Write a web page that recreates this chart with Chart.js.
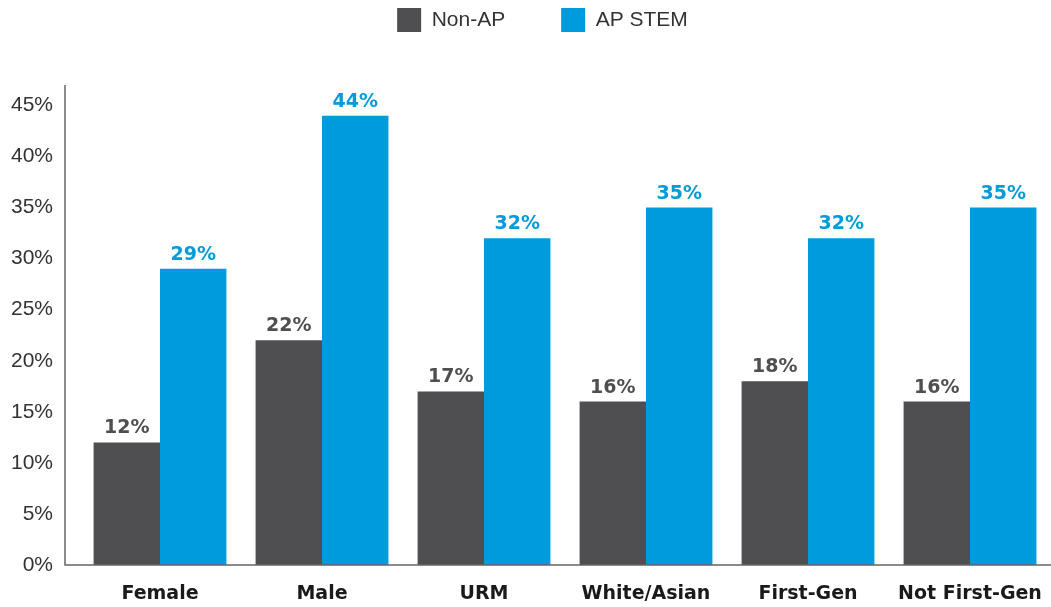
<!DOCTYPE html>
<html>
<head>
<meta charset="utf-8">
<script src="https://cdn.jsdelivr.net/npm/chart.js@4"></script>
<style>
  html, body { margin: 0; padding: 0; background: #fff; overflow: hidden; }
  #wrap { width: 1051px; height: 607px; }
</style>
</head>
<body>
<div id="wrap"><canvas id="chart"></canvas></div>
<script>
const categories = ['Female', 'Male', 'URM', 'White/Asian', 'First-Gen', 'Not First-Gen'];
const nonApValues = [12, 22, 17, 16, 18, 16];
const apStemValues = [29, 44, 32, 35, 32, 35];
const seriesNames = ['Non-AP', 'AP STEM'];
const yTickValues = [0, 5, 10, 15, 20, 25, 30, 35, 40, 45];

const GRAY = '#4f4f51';
const BLUE = '#009bdb';
const FONT = "'Liberation Sans', Arial, sans-serif";
const BOLD_FONT = "'DejaVu Sans', sans-serif";

// value labels above each bar, same colour as the bar
const barLabels = {
  id: 'barLabels',
  afterDatasetsDraw(chart) {
    const ctx = chart.ctx;
    ctx.save();
    ctx.font = `bold 19px ${BOLD_FONT}`;
    ctx.textAlign = 'center';
    ctx.textBaseline = 'alphabetic';
    chart.data.datasets.forEach((ds, i) => {
      const meta = chart.getDatasetMeta(i);
      ctx.fillStyle = ds.backgroundColor;
      meta.data.forEach((bar, j) => {
        ctx.fillText(ds.data[j] + '%', bar.x, bar.y - 9);
      });
    });
    ctx.restore();
  }
};

// axis lines: y line sits a bit left of the plot area
const axisLines = {
  id: 'axisLines',
  afterDraw(chart) {
    const { ctx, chartArea } = chart;
    const x0 = chartArea.left - 14;
    ctx.save();
    ctx.strokeStyle = '#666';
    ctx.lineWidth = 1.5;
    ctx.beginPath();
    ctx.moveTo(x0, chartArea.top);
    ctx.lineTo(x0, chartArea.bottom);
    ctx.lineTo(chartArea.right, chartArea.bottom);
    ctx.stroke();
    ctx.restore();
  }
};

// more room under the legend, and nudge it right a bit
const legendSpace = {
  id: 'legendSpace',
  beforeInit(chart) {
    const fit = chart.legend.fit;
    chart.legend.fit = function () {
      fit.call(this);
      this.height = 133;
    };
  },
  afterLayout(chart) {
    chart.legend.left += 17;
    chart.legend.right += 17;
  }
};

new Chart(document.getElementById('chart'), {
  type: 'bar',
  data: {
    labels: categories,
    datasets: [
      { label: seriesNames[0], data: nonApValues, backgroundColor: GRAY },
      { label: seriesNames[1], data: apStemValues, backgroundColor: BLUE }
    ]
  },
  options: {
    responsive: true,
    maintainAspectRatio: false,
    animation: false,
    layout: { padding: { top: -48, right: 0, bottom: 0, left: 0 } },
    datasets: {
      bar: { categoryPercentage: 0.82, barPercentage: 1.0 }
    },
    plugins: {
      tooltip: { enabled: false },
      legend: {
        position: 'top',
        fullSize: true,
        labels: {
          boxWidth: 24,
          boxHeight: 24,
          padding: 56,
          color: '#333',
          font: { family: FONT, size: 21 }
        }
      }
    },
    scales: {
      x: {
        grid: { display: false, drawTicks: false },
        border: { display: false },
        afterFit(scale) {
          scale.height = 42;
          scale.paddingLeft = 0;
          scale.paddingRight = 0;
        },
        ticks: {
          color: '#1a1a1a',
          padding: 18,
          maxRotation: 0,
          font: { family: BOLD_FONT, size: 19, weight: 'bold' }
        }
      },
      y: {
        min: 0,
        max: 47,
        grid: { display: false, drawTicks: false },
        border: { display: false },
        afterFit(scale) {
          scale.width = 79;
          scale.paddingTop = 0;
          scale.paddingBottom = 0;
        },
        afterBuildTicks(scale) {
          scale.ticks = yTickValues.map(v => ({ value: v }));
        },
        ticks: {
          padding: 26,
          color: '#333',
          font: { family: FONT, size: 21 },
          callback: v => v + '%'
        }
      }
    }
  },
  plugins: [barLabels, axisLines, legendSpace]
});
</script>
</body>
</html>
